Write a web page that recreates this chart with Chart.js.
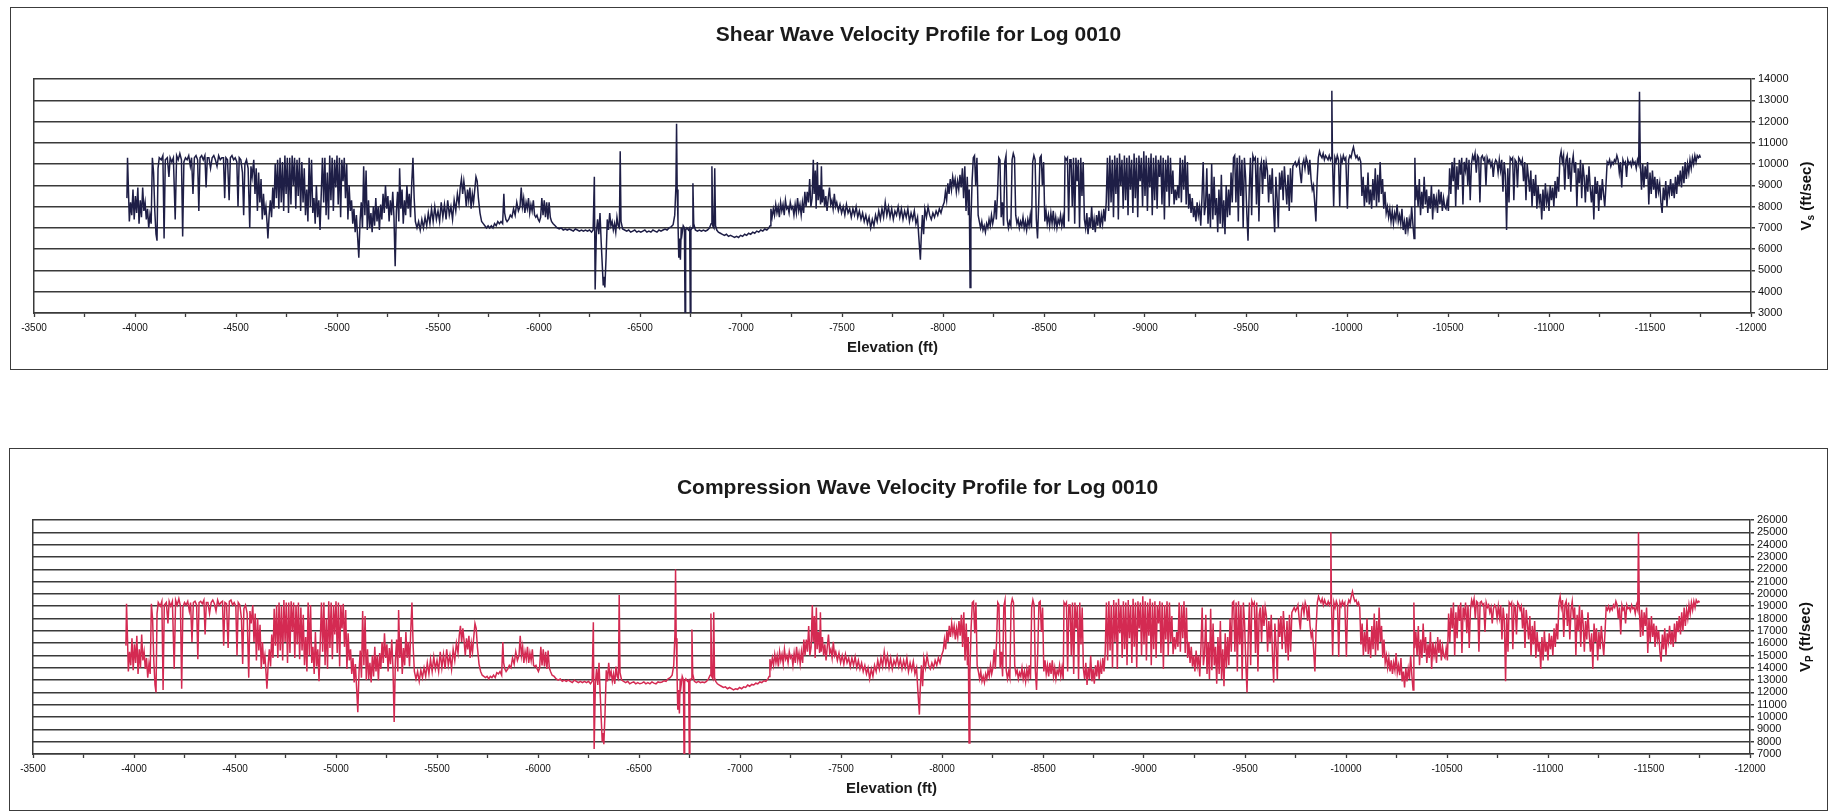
<!DOCTYPE html>
<html><head><meta charset="utf-8">
<script src="https://cdn.jsdelivr.net/npm/chart.js"></script>
<style>
html,body{margin:0;padding:0;background:#fff;}
body{width:1831px;height:812px;position:relative;overflow:hidden;}
.box{position:absolute;border:1px solid #3c3c3c;background:#fff;}
canvas{display:block;}
</style></head><body>
<div class="box" style="left:10px;top:7px;width:1816px;height:361px"><canvas id="vsChart" width="1815" height="361"></canvas></div>
<div class="box" style="left:9px;top:448px;width:1817px;height:361px"><canvas id="vpChart" width="1815" height="361"></canvas></div>
<script>
// ---------------- DATA ----------------
const elevationFt = [
-3960,-3963,-3967,-3972,-3978,-3984,-3990,-3996,-4002,-4008,-4014,-4020,-4026,-4032,-4038,-4044,-4050,-4056,-4062,-4068,-4074,-4080,
-4086,-4092,-4098,-4104,-4109,-4114,
-4120,-4130,-4138,-4144,-4150,-4160,-4168,-4174,-4182,-4190,
-4199,-4206,-4214,-4222,-4230,-4236,-4242,-4250,-4258,-4266,
-4274,-4280,-4287,-4294,-4302,-4310,-4316,-4322,-4330,-4338,
-4346,-4352,-4358,-4366,-4374,-4382,-4390,-4398,-4406,-4414,
-4422,-4430,-4438,-4444,-4450,-4458,-4466,-4472,-4480,-4488,
-4496,-4504,-4510,-4516,-4524,-4532,-4538,-4544,-4552,-4560,
-4568,-4574,-4580,
-4588,-4594,-4600,-4606,-4612,-4618,-4624,-4630,-4636,-4642,-4648,-4654,-4658,-4664,-4670,-4676,-4682,-4688,-4694,-4700,
-4706,-4712,-4718,-4724,-4730,-4736,-4742,-4748,-4754,-4760,-4766,-4772,-4778,-4784,-4790,-4796,-4802,-4808,-4814,-4820,-4826,
-4832,-4838,-4844,-4850,-4856,-4862,-4868,-4874,-4880,-4886,-4892,-4898,-4904,-4910,-4916,-4922,-4928,-4934,-4940,-4946,-4952,-4958,
-4964,-4970,-4976,-4982,-4988,-4994,-5000,-5006,-5012,-5018,-5024,-5030,-5036,-5042,-5048,-5054,-5060,-5066,
-5072,-5078,-5084,-5090,-5096,-5102,-5108,-5114,-5120,-5126,-5132,-5138,-5144,-5150,-5156,-5162,-5168,-5174,-5180,-5186,-5192,-5198,-5204,-5210,
-5216,-5222,-5228,-5234,-5240,-5246,-5252,-5258,-5264,-5270,-5276,-5282,-5288,-5294,-5300,-5306,-5310,-5316,-5322,-5328,-5334,-5340,-5346,-5352,-5358,-5364,-5370,-5376,-5382,-5388,
-5396,-5404,-5412,-5420,-5428,-5436,-5444,-5452,-5460,-5468,-5476,-5484,-5492,-5500,-5508,-5516,-5524,-5532,-5540,-5548,-5556,-5564,-5572,-5580,-5588,-5596,
-5604,-5610,-5616,-5622,-5628,-5634,-5640,-5646,-5652,-5658,-5664,-5670,-5676,-5682,-5688,-5694,-5700,
-5708,-5716,-5724,-5732,-5740,-5748,-5756,-5764,-5772,-5780,-5788,-5796,-5804,-5812,-5820,
-5826,-5830,-5836,-5842,-5850,-5858,-5866,-5874,-5882,-5890,-5898,-5906,-5912,-5918,-5924,-5930,-5936,-5942,-5948,-5954,-5960,-5966,-5972,-5978,-5984,-5990,-5996,-6002,-6008,-6014,-6020,-6026,-6032,-6038,-6044,-6050,-6056,-6062,-6070,
-6080,-6090,-6100,-6110,-6120,-6130,-6140,-6150,-6160,-6170,-6180,-6190,-6200,-6210,-6220,-6230,-6240,-6250,-6260,-6268,
-6274,-6278,-6284,-6290,-6296,-6302,-6308,-6314,-6318,-6322,-6326,-6332,-6338,-6344,-6350,-6356,-6362,-6368,-6374,-6380,-6386,-6392,-6398,
-6402,-6406,-6414,-6424,-6434,-6444,-6454,-6464,-6474,-6484,-6494,-6504,-6514,-6524,-6534,-6544,-6554,-6564,-6574,-6584,-6594,-6604,-6614,-6624,-6634,-6644,-6654,-6664,
-6672,-6678,-6681,-6684,-6688,-6692,-6696,-6700,-6704,-6708,-6714,-6720,-6723,-6726,-6732,-6740,-6746,-6749,-6752,-6758,-6762,
-6766,-6774,-6784,-6794,-6804,-6814,-6824,-6834,-6844,-6852,-6856,-6860,-6866,-6870,-6874,-6880,-6888,
-6898,-6908,-6918,-6928,-6938,-6948,-6958,-6968,-6978,-6988,-6998,-7008,-7018,-7028,-7038,-7048,-7058,-7068,-7078,-7088,-7098,-7108,-7118,-7128,-7138,-7144,
-7148,-7154,-7160,-7166,-7172,-7178,-7184,-7190,-7196,-7202,-7208,-7214,-7220,-7226,-7232,-7238,-7244,-7250,-7256,-7262,-7268,-7274,-7280,-7286,-7292,-7298,-7304,-7310,-7316,
-7322,-7328,-7334,-7340,-7346,-7352,-7358,-7362,-7368,-7372,-7378,-7382,-7388,-7394,-7398,-7402,-7408,-7414,-7420,-7426,-7432,-7438,-7444,-7450,-7456,-7462,-7468,-7474,
-7482,-7490,-7498,-7506,-7514,-7522,-7530,-7538,-7546,-7554,-7562,-7570,-7578,-7586,-7594,-7602,-7610,-7618,-7626,-7634,
-7642,-7650,-7658,-7666,-7674,-7682,-7690,-7698,-7706,-7714,-7722,-7730,-7738,-7746,-7754,-7762,-7770,-7778,-7786,-7794,
-7802,-7810,-7818,-7826,-7834,-7842,-7850,-7858,-7866,
-7874,-7880,-7888,-7892,-7898,-7904,-7910,-7918,-7926,-7934,-7942,-7950,-7958,-7966,-7974,-7982,-7990,-7998,-8006,-8012,
-8018,-8024,-8030,-8036,-8042,-8048,-8054,-8060,-8066,-8072,-8078,-8084,-8090,-8096,-8102,-8108,-8114,-8120,-8126,-8130,
-8134,-8138,-8144,-8150,-8156,-8162,-8168,-8174,-8180,-8186,-8192,-8198,-8204,-8210,-8216,-8222,-8228,-8234,-8240,-8246,
-8252,-8258,-8264,-8270,-8276,-8282,-8288,-8294,-8300,-8306,-8312,-8318,-8324,-8330,-8336,-8342,-8348,-8354,-8360,-8366,
-8372,-8378,-8384,-8390,-8396,-8402,-8408,-8414,-8420,-8426,-8432,-8438,-8444,-8450,-8456,-8462,-8468,-8474,-8480,-8486,
-8492,-8498,-8504,-8510,-8516,
-8522,-8528,-8534,-8540,-8546,-8552,-8558,-8564,-8570,-8576,-8582,-8588,-8594,-8600,
-8604,-8610,-8616,-8622,-8628,-8634,-8640,-8646,-8652,-8658,-8664,-8670,-8676,-8682,-8688,-8694,-8700,
-8706,-8712,-8718,-8724,-8730,-8736,-8742,-8748,-8754,-8760,-8766,-8772,-8778,-8784,-8790,-8796,-8802,-8808,
-8814,-8820,-8826,-8832,-8838,-8844,-8850,-8856,-8862,-8868,-8874,-8880,-8886,-8892,-8898,-8904,-8910,-8916,-8922,-8928,
-8934,-8940,-8946,-8952,-8958,-8964,-8970,-8976,-8982,-8988,-8994,-9000,-9006,-9012,-9018,-9024,-9030,-9036,-9042,-9048,
-9054,-9060,-9066,-9072,-9078,-9084,-9090,-9096,-9102,-9108,-9114,-9120,-9126,-9132,-9138,-9144,-9150,-9156,-9162,-9168,
-9174,-9180,-9186,-9192,-9198,-9204,-9210,-9216,-9222,-9228,-9234,-9240,-9246,-9252,-9258,-9264,-9270,-9276,-9282,-9288,
-9294,-9300,
-9306,-9312,-9318,-9324,-9330,-9336,-9342,-9348,-9354,-9360,-9366,-9372,-9378,-9384,-9390,-9396,-9402,-9408,-9414,-9420,-9426,-9432,
-9438,-9444,-9450,-9456,-9462,-9468,-9474,-9480,-9486,-9492,-9498,-9504,-9510,-9516,-9522,-9528,-9534,-9540,-9546,-9552,
-9558,-9564,-9570,-9576,-9582,-9588,-9594,-9600,-9606,-9612,-9618,
-9624,-9630,-9636,-9642,-9648,-9654,-9660,-9666,-9672,-9678,-9684,-9690,-9696,-9702,-9708,-9714,-9720,-9726,-9732,-9738,
-9744,-9750,-9756,-9762,-9768,-9774,-9780,-9786,-9792,-9798,-9804,-9810,-9816,-9822,-9828,-9834,-9840,-9846,-9852,
-9858,-9864,-9870,-9876,-9882,-9888,-9894,-9900,-9906,-9912,-9918,-9922,-9925,-9928,
-9934,-9940,-9946,-9952,-9958,-9964,-9970,-9976,-9982,-9988,-9994,-10002,-10008,-10014,-10020,-10026,-10032,-10038,-10044,-10050,-10056,-10062,-10068,
-10074,-10080,-10086,-10092,-10098,-10104,-10110,-10116,-10122,-10128,-10134,-10140,-10146,-10152,-10158,-10164,-10170,-10176,-10182,-10188,-10194,
-10200,-10206,-10212,-10218,-10224,-10230,-10236,-10242,-10248,-10254,-10260,-10266,-10272,-10278,-10284,-10290,-10296,-10302,-10308,-10314,-10320,-10326,-10332,-10336,-10340,-10346,
-10352,-10358,-10364,-10370,-10376,-10382,-10388,-10394,-10400,-10406,-10412,-10418,-10424,-10430,-10436,-10442,-10448,-10454,-10460,-10466,-10472,-10478,-10484,-10490,-10496,-10502,
-10508,-10514,-10520,-10526,-10532,-10538,-10544,-10550,-10556,-10562,-10568,-10574,-10580,-10586,-10592,-10598,-10604,-10610,-10616,-10622,
-10628,-10634,-10640,-10646,-10652,-10658,-10664,-10670,-10676,-10682,-10688,-10694,-10700,-10706,-10712,-10718,-10724,-10730,-10736,-10742,
-10748,-10754,-10760,-10766,-10772,-10778,-10784,-10790,-10796,
-10802,-10808,-10814,-10820,-10826,-10832,-10838,-10844,-10850,-10856,-10862,-10868,-10874,-10880,-10886,-10892,-10898,-10904,-10910,-10916,-10922,-10928,-10934,-10940,-10946,-10952,
-10958,-10964,-10970,-10976,-10982,-10988,-10994,-11000,-11006,-11012,-11018,-11024,-11030,-11036,-11042,-11048,
-11054,-11060,-11066,-11072,-11078,-11084,-11090,-11096,-11102,-11108,-11114,-11120,-11126,-11132,-11138,-11144,-11150,-11156,-11162,-11168,
-11174,-11180,-11186,-11192,-11198,-11204,-11210,-11216,-11222,-11228,-11234,-11240,-11246,-11252,-11258,-11264,-11270,-11276,-11282,
-11288,-11294,-11300,-11306,-11312,-11318,-11324,-11330,-11336,-11342,-11348,-11354,-11360,-11366,-11372,-11378,-11384,-11390,-11396,-11402,
-11408,-11414,-11420,-11426,-11432,-11438,-11444,-11448,-11452,
-11458,-11464,-11470,-11476,-11482,-11488,-11494,-11500,-11506,-11512,-11518,-11524,-11530,-11536,-11542,-11548,-11554,-11560,-11566,-11572,
-11578,-11584,-11590,-11596,-11602,-11608,-11614,-11620,-11626,-11632,-11638,-11644,-11650,-11656,-11662,-11668,-11674,
-11680,-11686,-11692,-11698,-11704,-11710,-11716,-11722,-11728,-11734,-11740,-11746,-11750
];

const vsFtPerSec = [
8400,10300,9000,7300,8200,7600,8800,7400,8500,7700,8900,7200,8300,7500,8900,7800,8200,7400,7900,7000,7600,7200,
10300,9600,7800,6700,6400,9800,
10300,10200,10400,6500,10200,10300,9400,10300,10100,10300,
7400,10400,10200,10500,10200,6600,10100,10300,10200,10400,
9900,10300,8600,10300,10400,10200,7800,10300,10400,10200,
10400,8900,10300,10300,9800,10300,10400,10200,9900,10400,
10200,10300,10300,8400,10300,10200,8300,10300,10400,10200,
10300,10100,8000,10300,10200,9600,7600,10000,10200,9800,
7000,9900,9400,
10200,8600,9800,7800,9600,8200,9300,7400,8600,7600,8000,7200,6500,7600,8300,7500,8900,7900,10000,8400,
10200,7900,10300,8200,10100,7800,10400,8600,10300,7700,10300,8100,10400,9000,10300,7900,10200,8500,10300,7800,10100,
8200,9800,7600,8800,7300,10300,8000,10200,7700,8400,7200,9000,7500,8300,6900,8600,10300,8200,10300,7600,9600,7400,
10400,8300,10300,7800,10200,8900,10400,8100,10300,7500,10200,9200,10300,8400,10000,7400,9000,7800,
8300,7200,7900,6800,7600,6600,5600,7300,8200,7000,9900,7600,9700,6900,8300,7000,7700,6800,8000,7100,8400,7300,8000,6900,
8100,7400,8600,7700,9000,7900,8500,7300,8300,7600,8700,7500,5200,7800,8700,7300,9800,7900,8800,7200,8300,7600,9000,7900,8600,7500,9100,10300,8400,7300,
7000,7300,6900,7400,7000,7500,7100,7700,7200,7900,7300,8000,7400,7800,7300,8200,7500,8100,7400,8300,7600,8000,7400,8300,7800,8600,
8100,8900,9300,8600,9200,8700,8000,8800,8300,8900,7900,8600,8200,8800,9400,9200,8400,
7700,7300,7200,7100,7000,7100,7000,7100,7000,7200,7100,7300,7200,7300,7200,
8600,7700,7400,7300,7400,7600,7500,7900,7600,8200,7800,8000,8900,8000,8400,7700,8200,7900,8400,7700,8100,7800,8300,7600,7500,7600,7400,7300,7500,8400,7600,8300,7500,8200,7400,8200,7500,7300,7200,
7100,7000,6950,7000,6900,6950,6900,6950,6900,6850,6950,6900,6850,6900,6850,6900,6850,6900,6800,6900,
9400,4100,6800,7400,6700,7700,6300,5100,4300,4700,4200,5600,7400,6900,7700,7100,7300,6900,7200,6800,7500,7100,7000,
10600,7300,6950,6900,6850,6900,6800,6850,6900,6800,6850,6800,6850,6900,6800,6850,6800,6900,6850,6800,6900,6850,6900,6950,6900,7000,7050,7150,
7600,9000,11900,8800,7300,5600,6500,5500,7000,6700,7100,7000,2800,6900,7000,6900,7000,2800,6900,7000,9100,
7200,6900,6850,6900,6850,6900,6850,6900,7000,7200,9900,7100,7000,9800,7100,6900,6800,
6750,6700,6650,6700,6600,6650,6600,6550,6600,6550,6650,6600,6700,6650,6750,6700,6800,6750,6850,6800,6900,6850,6950,6900,7000,7100,
7900,7500,7900,7600,8100,7700,8000,7500,8200,7800,8100,7600,8300,7900,8000,7700,8200,7900,8000,7600,8100,7700,8400,7800,8100,7600,8200,7700,8700,
8000,8700,8200,9300,8000,8400,10200,8600,9700,7900,10100,8300,9000,8100,9900,8200,8800,8000,8500,7800,8400,8900,8100,8300,7900,8600,8000,8200,
7800,8100,7700,8000,7600,8100,7700,7900,7500,7900,7600,8000,7500,7800,7400,7700,7300,7600,7200,7500,
7000,7400,7100,7600,7300,7800,7400,7900,7500,8200,7600,8000,7500,7900,7400,7800,7600,8000,7500,7900,
7400,7800,7500,7900,7300,7700,7400,7800,7200,
7500,6600,5500,6500,7600,6700,7900,7500,8000,7600,7400,7700,7500,7800,7600,7900,7700,8000,8200,8700,
8300,9100,8600,9300,8800,9400,9000,9300,8700,9200,8800,9500,8900,9800,8400,9900,7800,9400,7600,8800,
4200,7200,9200,10300,10400,9000,10300,7600,7300,7000,7300,6900,7100,6800,7200,7000,7400,7100,7600,7200,
7500,8300,7400,8600,10300,10200,7500,8200,7100,10100,10400,7400,7000,7300,7100,10200,10500,10300,7600,7200,
7400,7000,7300,7100,7500,7000,7300,6900,7400,7100,7600,7000,10100,10400,10200,7400,6500,8200,10300,10400,
9000,10100,7300,7800,7200,
7600,7100,7700,7200,7800,7100,7500,7000,7400,7200,7600,7100,7500,7000,
10300,10200,10300,7300,10200,10200,8000,10300,7200,10300,9200,10200,7000,10300,8500,10100,7400,
7000,7700,6700,7500,7000,8000,6900,7400,6800,7600,7100,7800,7000,7600,7200,7900,7300,8200,
10300,7800,10400,8200,10200,7500,10400,8600,10300,7400,10500,9000,10200,7900,10400,8300,10300,7600,10400,8800,
10200,7700,10500,8400,10300,7500,10400,9200,10300,8000,10600,8500,10400,7800,10300,8900,10500,7600,10300,8300,
10400,7900,10200,9400,10400,8100,10300,7400,10200,8700,10400,8000,10300,8600,9700,8100,8800,8300,9000,8400,
10300,8200,10200,8800,10400,8100,10100,7900,8600,7700,8400,7500,8000,7300,8200,7600,8000,7100,8400,10100,
7600,8100,
9800,7200,8600,7000,10000,7400,9400,7600,8400,6800,8800,7200,9500,7000,8300,6700,9000,7500,8800,7600,9600,8200,
10300,10400,8200,10300,7300,10400,8500,10200,7000,10300,9400,7700,6400,8800,10300,7600,10400,10200,10300,8100,
10300,7300,9800,10100,8600,10200,9300,10100,9700,8200,9500,
8600,9800,8000,6800,9400,8400,7000,9600,8800,9700,8300,9900,9000,8100,9500,7800,9800,8200,9900,10000,
10100,9900,10000,10200,9600,9100,10000,10200,9800,10300,10100,9500,10200,9300,8800,9000,8200,7300,9200,
10300,10600,10400,10300,10500,10200,10400,10300,10200,10400,10200,10300,13450,10300,
8000,10300,10100,10400,10200,8000,10300,10100,10400,10200,10300,7900,10200,10400,10300,10600,10800,10500,10300,10400,10200,10300,10100,
8500,9400,8000,9000,8200,9600,8100,8800,7900,9300,8300,9800,8000,9500,8200,10100,8600,9300,7900,8700,7700,
8000,7500,7900,7300,7800,7200,7700,7400,8100,7300,7600,7200,7900,6900,7300,6700,7500,6900,7400,7000,8000,7200,6500,10300,8300,9000,
8000,9300,7600,8700,7900,9400,8100,8800,7700,8500,7900,9000,7400,8600,8000,8400,7700,8800,8100,8700,7800,8400,8000,7900,8300,7800,
9800,8600,10100,9200,10300,8000,9900,8800,10200,9500,10300,8100,10100,9700,10300,9000,10200,8300,10000,10400,
10200,10500,9600,10400,10300,8200,10300,10400,10200,10300,9000,10300,10100,10200,9900,10100,9400,10000,10200,10100,
9600,10200,9700,10200,8700,10100,9500,6900,9800,
8200,10300,10200,10300,8300,10200,10100,8900,10300,10200,10000,10200,9200,10100,8300,10000,9400,8700,9700,8000,9300,8500,9500,7900,9000,8200,
8600,7400,8800,7800,9100,8200,8600,7800,9000,8300,8900,8000,9200,8400,9400,8700,
10300,10600,10100,10400,8800,10200,10400,9300,10300,8700,10000,10400,9600,10100,8000,9800,9100,10200,8400,10000,
9400,8200,9500,8700,9900,8900,8200,9000,7400,9400,8600,9200,7800,9000,8300,9300,8600,8000,9000,
10100,10000,10200,9900,10100,10000,10200,10100,10400,10200,9600,10100,8900,10200,10000,10100,9400,10200,10000,10100,
9900,10200,10000,10100,9800,10200,10000,13400,10100,
8800,10000,8900,9900,9300,10100,8100,9600,8600,9700,8800,9400,8400,9300,8700,9100,8200,7700,8900,8300,
9200,8000,9000,8600,9300,8500,9100,8400,9400,8600,9500,9000,9700,8900,9900,9100,10100,
9300,10000,9600,10200,9800,10300,10000,10400,10100,10400,10300,10400,10300
];

const vpFtPerSec = [
15800,19200,16900,13700,15300,14200,16400,13800,15900,14400,16600,13500,15500,14000,16700,14600,15300,13900,14800,13200,14300,13500,
19200,18000,14600,12600,12000,18400,
19300,19000,19400,12200,19100,19300,17600,19400,19000,19400,
13900,19500,19100,19600,19000,12300,18900,19300,19100,19400,
18600,19300,16100,19300,19400,19100,14700,19300,19400,19200,
19500,16700,19300,19300,18400,19300,19500,19200,18600,19500,
19100,19300,19400,15800,19300,19200,15600,19400,19500,19100,
19300,19000,15000,19300,19100,18000,14300,18800,19100,18400,
13200,18600,17600,
19100,16100,18400,14600,18000,15400,17500,13900,16100,14300,15000,13500,12300,14200,15500,14100,16700,14800,18800,15800,
19100,14800,19300,15400,19000,14600,19500,16100,19300,14400,19300,15200,19400,16900,19300,14800,19100,15900,19300,14700,18900,
15400,18300,14200,16500,13700,19300,15000,19100,14400,15700,13500,16900,14100,15500,12900,16100,19300,15300,19300,14200,18000,13900,
19400,15600,19300,14700,19100,16700,19400,15200,19300,14100,19100,17200,19200,15700,18700,13900,16800,14600,
15500,13500,14800,12800,14300,12400,10400,13700,15400,13200,18600,14200,18200,13000,15500,13100,14400,12800,15000,13300,15700,13700,15000,13000,
15200,13900,16100,14400,16800,14800,15900,13700,15600,14300,16300,14000,9600,14600,16300,13700,18700,14800,16500,13500,15600,14200,16900,14800,16100,14100,17000,19300,15700,13700,
13100,13700,12900,13800,13200,14000,13300,14400,13500,14700,13700,14900,13900,14600,13700,15300,14000,15100,13900,15500,14200,15000,13900,15500,14600,16000,
15200,16600,17400,16100,17200,16200,15000,16400,15500,16600,14800,16000,15300,16500,17600,17200,15700,
14300,13700,13400,13300,13200,13300,13100,13300,13200,13400,13200,13600,13500,13700,13400,
16100,14400,13900,13700,13900,14200,14000,14800,14300,15300,14600,15000,16600,15000,15700,14400,15300,14700,15700,14400,15200,14600,15500,14200,14100,14200,13900,13700,14000,15700,14200,15500,14100,15300,13900,15400,14000,13700,13400,
13300,13100,13000,13100,12900,13000,12900,13000,12900,12800,13000,12900,12800,12900,12800,12900,12800,12900,12700,12900,
17700,7400,12700,13900,12600,14400,11800,9500,8000,8700,7800,10400,13800,12900,14400,13300,13700,12900,13500,12700,14100,13300,13100,
19900,13600,13000,12900,12800,12900,12700,12800,12850,12700,12800,12700,12750,12850,12700,12800,12700,12850,12750,12700,12850,12800,12850,12950,12900,13100,13200,13400,
14200,16800,22000,16400,13700,10600,12200,10300,13100,12500,13300,13000,6800,12900,13100,12900,13000,6800,12900,13100,17100,
13500,12900,12800,12900,12800,12850,12800,12900,13100,13400,18400,13300,13100,18500,13200,12900,12700,
12600,12500,12400,12450,12300,12400,12300,12200,12300,12250,12400,12300,12450,12400,12600,12500,12650,12600,12750,12700,12850,12800,12950,12900,13100,13300,
14700,14100,14800,14200,15100,14400,15000,14100,15300,14600,15100,14300,15500,14700,15000,14400,15300,14800,15000,14200,15200,14400,15700,14600,15200,14300,15300,14400,16300,
15000,16300,15300,17400,15000,15700,19100,16100,18200,14800,18900,15500,16900,15200,18500,15300,16500,15000,15900,14600,15700,16700,15200,15500,14800,16100,15000,15300,
14600,15200,14400,15000,14300,15100,14400,14800,14100,14800,14200,14900,14000,14600,13900,14400,13700,14200,13500,14000,
13100,13900,13300,14200,13700,14600,13900,14800,14100,15300,14200,15000,14000,14800,13900,14600,14200,14900,14100,14700,
13900,14600,14000,14800,13700,14400,13800,14500,13500,
14000,12300,10200,12200,14200,12500,14800,14000,15000,14200,13900,14400,14000,14600,14200,14800,14400,15000,15400,16300,
15500,17000,16100,17400,16500,17600,16800,17400,16300,17200,16500,17800,16600,18300,15700,18500,14600,17600,14200,16500,
7900,13500,17200,19300,19400,16800,19300,14200,13700,13100,13700,12900,13300,12800,13500,13100,13800,13300,14200,13500,
14000,15500,13900,16100,19300,19100,14000,15300,13300,19000,19500,13800,13100,13700,13200,19100,19600,19300,14200,13500,
13800,13100,13600,13300,14000,13100,13700,12900,13900,13200,14200,13100,18900,19500,19100,13800,12200,15300,19300,19400,
16900,18900,13700,14600,13500,
14200,13300,14400,13500,14600,13300,14000,13100,13800,13500,14200,13300,14000,13100,
19300,19100,19300,13700,19100,19100,15000,19300,13500,19300,17200,19100,13100,19300,15900,18900,13900,
13100,14400,12600,14000,13100,15000,12900,13900,12700,14200,13300,14600,13100,14300,13500,14800,13700,15300,
19300,14600,19400,15400,19100,14000,19500,16100,19300,13900,19600,16800,19100,14800,19400,15500,19300,14200,19500,16400,
19100,14400,19600,15700,19300,14000,19400,17200,19300,15000,19800,15900,19400,14600,19300,16600,19600,14200,19300,15500,
19400,14800,19100,17600,19400,15200,19300,13900,19100,16300,19400,15000,19300,16100,18200,15100,16500,15500,16900,15700,
19300,15300,19100,16400,19400,15200,18900,14800,16100,14400,15700,14100,15000,13700,15400,14200,15000,13300,15700,18900,
14200,15200,
18300,13500,16100,13100,18800,13800,17600,14200,15700,12700,16500,13500,17800,13100,15500,12500,16800,14000,16500,14200,18000,15300,
19300,19400,15300,19300,13700,19400,15900,19100,13100,19300,17600,14400,12000,16500,19300,14200,19400,19100,19300,15200,
19300,13700,18300,18900,16100,19100,17400,18900,18200,15300,17800,
16100,18300,15000,12800,17600,15700,13100,18000,16500,18200,15500,18600,16900,15200,17800,14600,18300,15300,18500,18700,
18900,18600,18800,19100,18000,17100,18700,19100,18400,19300,18900,17800,19100,17400,16500,16900,15400,13700,17200,
19300,19800,19500,19300,19600,19100,19500,19200,19100,19400,19100,19300,25000,19300,
15000,19300,18900,19400,19100,14900,19300,19000,19400,19100,19300,14900,19100,19500,19300,19800,20200,19700,19400,19500,19100,19300,18900,
15900,17600,15000,16900,15300,18000,15100,16500,14800,17400,15500,18400,15000,17800,15400,18900,16100,17400,14800,16300,14400,
15000,14000,14800,13700,14600,13500,14400,13800,15200,13600,14200,13400,14800,12900,13700,12400,14000,12900,13900,13100,15000,13400,12200,19300,15600,16900,
15000,17400,14200,16300,14800,17600,15200,16500,14400,15900,14800,16900,13900,16100,15000,15700,14400,16500,15200,16300,14600,15700,15000,14800,15600,14600,
18400,16100,18900,17200,19300,15000,18500,16400,19100,17800,19300,15200,18900,18200,19300,16800,19100,15600,18700,19500,
19100,19600,18000,19400,19300,15300,19300,19400,19100,19200,16900,19300,18900,19100,18500,18900,17600,18800,19100,18900,
18000,19000,18100,19100,16300,18900,17800,12900,18400,
15300,19300,19100,19300,15500,19100,18900,16700,19300,19100,18700,19000,17200,18900,15600,18700,17600,16300,18200,15000,17400,15900,17800,14800,16900,15300,
16100,13900,16500,14600,17000,15300,16100,14600,16800,15500,16600,15000,17200,15700,17600,16300,
19300,19800,18900,19500,16500,19100,19400,17400,19300,16300,18700,19400,18000,18900,15000,18300,17000,19100,15700,18700,
17600,15300,17800,16300,18500,16700,15300,16800,13900,17600,16100,17200,14600,16900,15500,17400,16100,15000,16800,
18900,18700,19000,18600,18900,18700,19100,18900,19400,19100,18000,18900,16700,19100,18700,18900,17600,19100,18800,18900,
18600,19100,18800,18900,18400,19100,18700,25000,18900,
16500,18700,16600,18500,17400,18900,15200,18000,16100,18200,16500,17600,15700,17400,16300,17000,15300,14500,16700,15500,
17200,15000,16800,16100,17400,15900,17000,15700,17600,16100,17800,16900,18200,16700,18500,17000,18900,
17400,18700,18000,19100,18400,19300,18700,19400,18900,19500,19300,19400,19300
];

// axis ticks (x: every 250 ft, labelled every 500 ft)
const elevationTicks = [-3500,-3750,-4000,-4250,-4500,-4750,-5000,-5250,-5500,-5750,-6000,-6250,-6500,-6750,-7000,-7250,-7500,-7750,-8000,-8250,-8500,-8750,-9000,-9250,-9500,-9750,-10000,-10250,-10500,-10750,-11000,-11250,-11500,-11750,-12000];
const vsTicks = [3000,4000,5000,6000,7000,8000,9000,10000,11000,12000,13000,14000];
const vpTicks = [7000,8000,9000,10000,11000,12000,13000,14000,15000,16000,17000,18000,19000,20000,21000,22000,23000,24000,25000,26000];

if (elevationFt.length !== vsFtPerSec.length || elevationFt.length !== vpFtPerSec.length) {
  throw new Error('length mismatch ' + elevationFt.length + ' ' + vsFtPerSec.length + ' ' + vpFtPerSec.length);
}

// ---------------- CHARTS ----------------
const FONT = "'Liberation Sans', Arial, Helvetica, sans-serif";
Chart.defaults.font.family = FONT;
Chart.defaults.color = '#111';
const GRID = '#3a3a3a';

const yTitlePlugin = {
  id: 'yTitle',
  afterDraw(chart, args, opts) {
    const {ctx, chartArea} = chart;
    const cy = (chartArea.top + chartArea.bottom) / 2;
    const big = "bold 15px " + FONT;
    const small = "bold 10px " + FONT;
    ctx.save();
    ctx.fillStyle = '#111';
    ctx.textBaseline = 'alphabetic';
    ctx.font = big;
    const w1 = ctx.measureText(opts.main).width;
    const w3 = ctx.measureText(opts.rest).width;
    ctx.font = small;
    const w2 = ctx.measureText(opts.sub).width;
    const total = w1 + w2 + w3;
    ctx.translate(opts.x, cy);
    ctx.rotate(-Math.PI / 2);
    let sx = -total / 2;
    ctx.font = big; ctx.fillText(opts.main, sx, 5); sx += w1;
    ctx.font = small; ctx.fillText(opts.sub, sx, 8); sx += w2;
    ctx.font = big; ctx.fillText(opts.rest, sx, 5);
    ctx.restore();
  }
};

function makeChart(id, values, color, yTicks, titleText, subLetter, titlePad) {
  const points = elevationFt.map((e, i) => ({x: e, y: values[i]}));
  return new Chart(document.getElementById(id), {
    type: 'line',
    data: { datasets: [{ data: points, xAxisID: 'x', yAxisID: 'y', borderColor: color, borderWidth: 1.5,
                         pointRadius: 0, fill: false, tension: 0 }] },
    plugins: [yTitlePlugin],
    options: {
      responsive: false, animation: false, parsing: false,
      layout: { padding: { left: 0, right: 0, top: 0, bottom: 0 } },
      plugins: {
        legend: { display: false },
        tooltip: { enabled: false },
        title: { display: true, text: titleText, color: '#1a1a1a',
                 font: { size: 21, weight: 'bold' }, padding: titlePad },
        yTitle: { main: 'V', sub: subLetter, rest: ' (ft/sec)', x: 1795 }
      },
      scales: {
        x: {
          type: 'linear', reverse: true,
          min: elevationTicks[elevationTicks.length - 1], max: elevationTicks[0],
          afterBuildTicks: s => { s.ticks = elevationTicks.map(v => ({value: v})); },
          afterFit: s => { s.height = 56; },
          ticks: { autoSkip: false, maxRotation: 0, minRotation: 0, padding: 5,
                   font: { size: 10 }, color: '#111',
                   callback: v => (v % 500 === 0 ? String(v) : '') },
          grid: { drawOnChartArea: false, drawTicks: true, tickLength: 4, tickColor: GRID, tickWidth: 1.3 },
          border: { display: true, color: GRID, width: 1.5 },
          title: { display: true, text: 'Elevation (ft)', color: '#1a1a1a',
                   font: { size: 15, weight: 'bold' }, padding: { top: 0, bottom: 12 } }
        },
        y: {
          type: 'linear', position: 'right',
          min: yTicks[0], max: yTicks[yTicks.length - 1],
          afterBuildTicks: s => { s.ticks = yTicks.map(v => ({value: v})); },
          afterFit: s => { s.width = 75; },
          ticks: { autoSkip: false, padding: 3, font: { size: 11 }, color: '#111',
                   callback: v => String(v) },
          grid: { color: GRID, lineWidth: 1.5, drawTicks: true, tickLength: 4 },
          border: { display: true, color: GRID, width: 1.5 }
        },
        yLeft: {
          type: 'linear', position: 'left', display: true, min: 0, max: 1,
          afterFit: s => { s.width = 23; },
          ticks: { display: false },
          grid: { display: false, drawOnChartArea: false, drawTicks: false },
          border: { display: true, color: GRID, width: 1.5 }
        }
      }
    }
  });
}

makeChart('vsChart', vsFtPerSec, '#1e1e46', vsTicks, 'Shear Wave Velocity Profile for Log 0010', 's',
          { top: 14.4, bottom: 31.4 });
makeChart('vpChart', vpFtPerSec, '#d42a52', vpTicks, 'Compression Wave Velocity Profile for Log 0010', 'P',
          { top: 26.4, bottom: 19.4 });
</script>
</body></html>
